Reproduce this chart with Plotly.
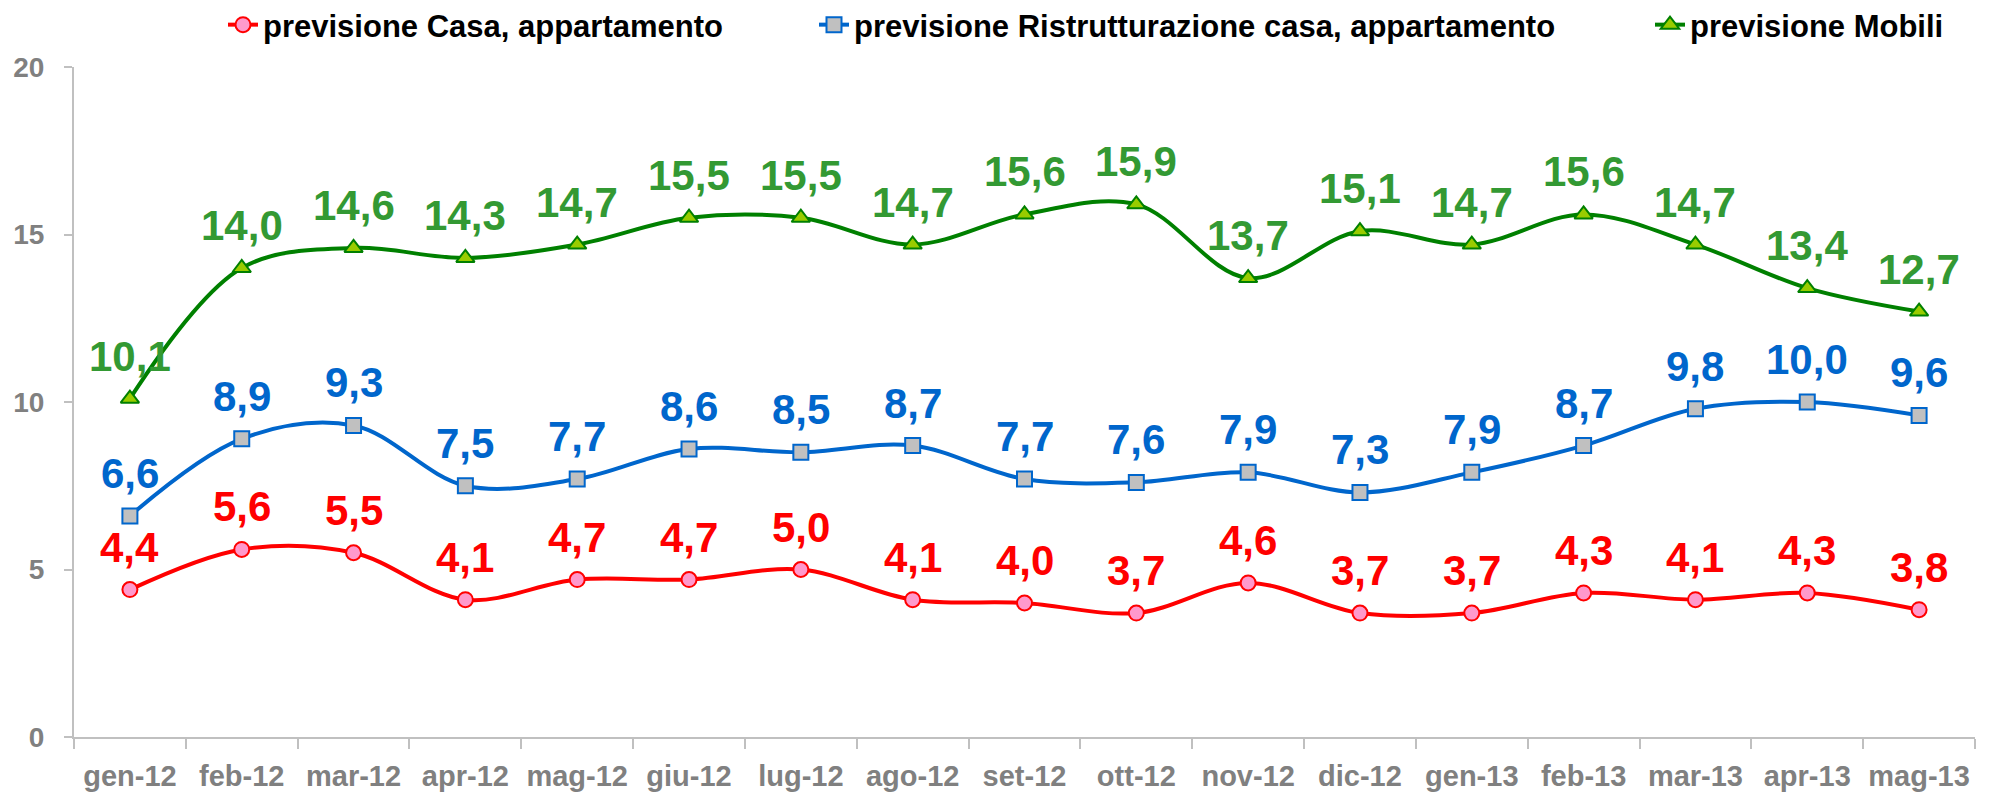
import plotly.graph_objects as go

categories = ["gen-12", "feb-12", "mar-12", "apr-12", "mag-12", "giu-12", "lug-12", "ago-12",
              "set-12", "ott-12", "nov-12", "dic-12", "gen-13", "feb-13", "mar-13", "apr-13", "mag-13"]
casa = [4.4, 5.6, 5.5, 4.1, 4.7, 4.7, 5.0, 4.1, 4.0, 3.7, 4.6, 3.7, 3.7, 4.3, 4.1, 4.3, 3.8]
ristrutturazione = [6.6, 8.9, 9.3, 7.5, 7.7, 8.6, 8.5, 8.7, 7.7, 7.6, 7.9, 7.3, 7.9, 8.7, 9.8, 10.0, 9.6]
mobili = [10.1, 14.0, 14.6, 14.3, 14.7, 15.5, 15.5, 14.7, 15.6, 15.9, 13.7, 15.1, 14.7, 15.6, 14.7, 13.4, 12.7]
y_ticks = [0, 5, 10, 15, 20]

FONT = "Liberation Sans, Arial, sans-serif"

series = [
    dict(name="previsione Casa, appartamento", y=casa, line="#ff0000", mfill="#ff99cc",
         mline="#ff0000", symbol="circle", msize=15, tcolor="#ff0000", legend="legend"),
    dict(name="previsione Ristrutturazione casa, appartamento", y=ristrutturazione, line="#0066cc",
         mfill="#c0c0c0", mline="#0066cc", symbol="square", msize=15, tcolor="#0066cc", legend="legend2"),
    dict(name="previsione Mobili", y=mobili, line="#008000", mfill="#99cc00",
         mline="#008000", symbol="triangle-up", msize=16, tcolor="#339933", legend="legend3"),
]

fig = go.Figure()
annotations = []
for s in series:
    fig.add_trace(go.Scatter(
        x=categories, y=s["y"], name=s["name"], legend=s["legend"], showlegend=True,
        mode="lines+markers",
        line=dict(color=s["line"], width=4, shape="spline", smoothing=1.0),
        marker=dict(symbol=s["symbol"], size=s["msize"], color=s["mfill"],
                    line=dict(color=s["mline"], width=2)),
    ))
    for c, v in zip(categories, s["y"]):
        annotations.append(dict(
            x=c, y=v, xref="x", yref="y", text=f"{v:.1f}".replace(".", ","),
            showarrow=False, yanchor="bottom", xanchor="center", yshift=17,
            font=dict(family=FONT, size=42, color=s["tcolor"], weight="bold"),
        ))

# page body has an 8px default margin: work in screen pixels and convert
OFF = 8
W, H = 1994, 802
SCR_LEFT, SCR_RIGHT, SCR_TOP, SCR_BOTTOM = 74, 1975, 67, 737
L = SCR_LEFT - OFF
R = W - (SCR_RIGHT - OFF)
T = SCR_TOP - OFF
B = H - (SCR_BOTTOM - OFF)
pw = W - L - R
ph = H - T - B

def px_x(screen_px):
    return (screen_px - OFF - L) / pw

def px_y(screen_py):
    return (H - B - (screen_py - OFF)) / ph

legend_common = dict(orientation="h", yanchor="middle", xanchor="left",
                     font=dict(family=FONT, size=31, color="#000000", weight="bold"),
                     bgcolor="rgba(0,0,0,0)", borderwidth=0)

fig.update_layout(
    width=W, height=H,
    margin=dict(l=L, r=R, t=T, b=B, autoexpand=False),
    paper_bgcolor="white", plot_bgcolor="white",
    font=dict(family=FONT),
    showlegend=True,
    annotations=annotations,
    legend=dict(x=px_x(263 - 40), y=px_y(25), **legend_common),
    legend2=dict(x=px_x(854 - 40), y=px_y(25), **legend_common),
    legend3=dict(x=px_x(1690 - 40), y=px_y(25), **legend_common),
    xaxis=dict(
        type="category", range=[-0.5, len(categories) - 0.5], automargin=False,
        showline=True, linecolor="#c0c0c0", linewidth=2,
        ticks="outside", tickson="boundaries", ticklen=10, tickwidth=2, tickcolor="#c0c0c0",
        tickfont=dict(family=FONT, size=29, color="#808080", weight="bold"),
        showgrid=False, zeroline=False, ticklabelstandoff=12,
    ),
    yaxis=dict(
        range=[0, 20], tickvals=y_ticks, automargin=False,
        showline=True, linecolor="#c0c0c0", linewidth=2,
        ticks="outside", ticklen=8, tickwidth=2, tickcolor="#c0c0c0",
        tickfont=dict(family=FONT, size=28, color="#808080", weight="bold"),
        showgrid=False, zeroline=False, ticklabelstandoff=14,
    ),
)

fig.write_html("out.html")
